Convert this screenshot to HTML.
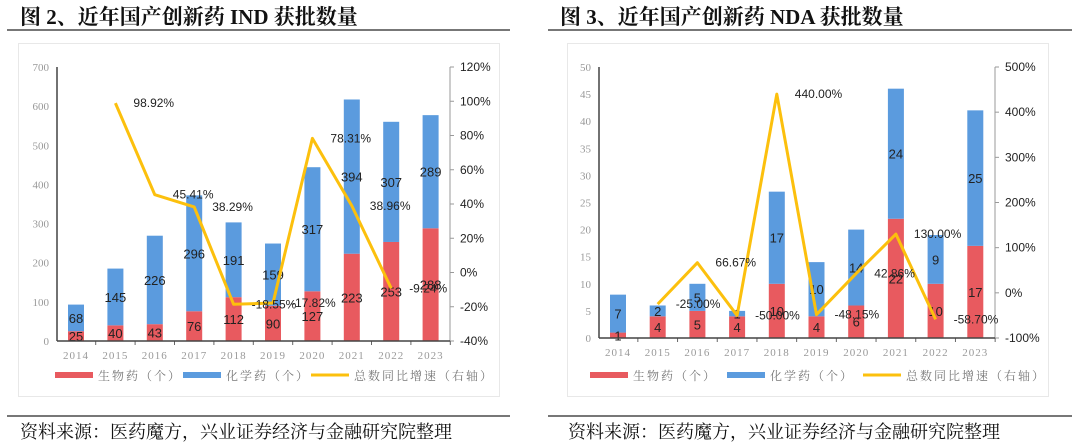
<!DOCTYPE html>
<html><head><meta charset="utf-8">
<style>
body{margin:0;width:1080px;height:445px;background:#fff;overflow:hidden;font-family:"Liberation Serif","Noto Serif CJK SC",serif;}
.t{position:absolute;font-weight:bold;font-size:21px;color:#111;top:1px;white-space:nowrap;font-family:"Liberation Serif","Noto Serif CJK SC",serif;}
.hl{position:absolute;height:2px;background:#777;}
.src{position:absolute;top:418px;font-size:18px;color:#111;white-space:nowrap;font-family:"Liberation Serif","Noto Serif CJK SC",serif;}
.box{position:absolute;border:1px solid #e8e8e8;}
svg{position:absolute;left:0;top:0;}
</style></head><body>
<div class="t" style="left:20px">图 2、近年国产创新药 IND 获批数量</div>
<div class="t" style="left:560px">图 3、近年国产创新药 NDA 获批数量</div>
<div class="hl" style="left:7px;top:29px;width:503px"></div>
<div class="hl" style="left:548px;top:29px;width:524px"></div>
<div class="box" style="left:18px;top:43px;width:480px;height:352px"></div>
<div class="box" style="left:567px;top:43px;width:480px;height:352px"></div>
<div class="hl" style="left:7px;top:415px;width:503px"></div>
<div class="hl" style="left:548px;top:415px;width:524px"></div>
<div class="src" style="left:20px">资料来源：医药魔方，兴业证券经济与金融研究院整理</div>
<div class="src" style="left:568px">资料来源：医药魔方，兴业证券经济与金融研究院整理</div>
<svg id="svg" width="1080" height="445"></svg>
<script>
const years = ["2014","2015","2016","2017","2018","2019","2020","2021","2022","2023"];
const indBio = [25,40,43,76,112,90,127,223,253,288];
const indChem = [68,145,226,296,191,159,317,394,307,289];
const indGrowth = [98.92,45.41,38.29,-18.55,-17.82,78.31,38.96,-9.24];
const indLeftTicks = [0,100,200,300,400,500,600,700];
const indRightTicks = [-40,-20,0,20,40,60,80,100,120];
const ndaBio = [1,4,5,4,10,4,6,22,10,17];
const ndaChem = [7,2,5,1,17,10,14,24,9,25];
const ndaGrowth = [-25.00,66.67,-50.00,440.00,-48.15,42.86,130.00,-58.70];
const ndaLeftTicks = [0,5,10,15,20,25,30,35,40,45,50];
const ndaRightTicks = [-100,0,100,200,300,400,500];

const NS="http://www.w3.org/2000/svg";
const svg=document.getElementById('svg');
function mk(tag,attrs,name,text){const e=document.createElementNS(NS,tag);for(const k in attrs)e.setAttribute(k,attrs[k]);


if(text!==undefined)e.textContent=text;svg.appendChild(e);return e;}

function chart(cfg){
  const {x0,x1,yTop,yBot,c0,step,bio,chem,growth,lt,rt,pre,leg}=cfg;
  const lmax=lt[lt.length-1], rmin=rt[0], rmax=rt[rt.length-1];
  const yL=v=>yBot-(v/lmax)*(yBot-yTop);
  const yR=v=>yBot-((v-rmin)/(rmax-rmin))*(yBot-yTop);
  const xC=i=>c0+i*step;
  const bw=16;
  lt.forEach(t=>{mk('text',{x:x0-8,y:yL(t)+4,'text-anchor':'end','font-size':11,fill:'#999','font-family':'Liberation Serif,serif'},pre+'left-tick-label',String(t));});
  rt.forEach(t=>{mk('line',{x1:x1,x2:x1+4,y1:yR(t),y2:yR(t),stroke:'#999'},pre+'right-tick');
    mk('text',{x:x1+10,y:yR(t)+4,'font-size':12,fill:'#222','font-family':'Liberation Sans,sans-serif'},pre+'right-tick-label',t+'%');});
  mk('line',{x1:x1,x2:x1,y1:yTop,y2:yBot,stroke:'#999'},pre+'right-axis');
  years.forEach((y,i)=>{
    const x=xC(i);
    mk('rect',{x:x-bw/2,y:yL(bio[i]),width:bw,height:yBot-yL(bio[i]),fill:'#e85a5f'},pre+'bio-bar-'+y);
    mk('rect',{x:x-bw/2,y:yL(bio[i]+chem[i]),width:bw,height:yL(bio[i])-yL(bio[i]+chem[i]),fill:'#5b9bde'},pre+'chem-bar-'+y);
    mk('text',{x:x,y:(yBot+yL(bio[i]))/2+5,'text-anchor':'middle','font-size':13,fill:'#222','font-family':'Liberation Sans,sans-serif'},pre+'bio-value-'+y,String(bio[i]));
    mk('text',{x:x,y:(yL(bio[i])+yL(bio[i]+chem[i]))/2+5,'text-anchor':'middle','font-size':13,fill:'#222','font-family':'Liberation Sans,sans-serif'},pre+'chem-value-'+y,String(chem[i]));
    mk('text',{x:x,y:yBot+18,'text-anchor':'middle','font-size':11,fill:'#999','font-family':'Liberation Serif,serif','letter-spacing':'1'},pre+'x-tick-label',y);
    mk('line',{x1:x+step/2,x2:x+step/2,y1:yBot,y2:yBot+4,stroke:'#666'},pre+'x-tick');
  });
  mk('line',{x1:x0,x2:x0,y1:yTop,y2:yBot,stroke:'#444','stroke-width':1.5},pre+'left-axis');
  mk('line',{x1:x0,x2:x1,y1:yBot,y2:yBot,stroke:'#444','stroke-width':1.5},pre+'x-axis');
  const pts=growth.map((g,i)=>xC(i+1)+','+yR(g)).join(' ');
  mk('polyline',{points:pts,fill:'none',stroke:'#fcc00d','stroke-width':3,'stroke-linejoin':'round'},pre+'growth-line');
  growth.forEach((g,i)=>{mk('text',{x:xC(i+1)+18,y:yR(g)+4,'font-size':12,fill:'#222','font-family':'Liberation Sans,sans-serif'},pre+'growth-label',g.toFixed(2)+'%');});
  const ly=375, cols=[['#e85a5f','生物药（个）','bio'],['#5b9bde','化学药（个）','chem'],['#fcc00d','总数同比增速（右轴）','growth']];
  cols.forEach((c,k)=>{const lx=leg[k];
    mk('rect',{x:lx,y:ly-(k==2?1.5:3),width:38,height:k==2?3:6,fill:c[0]},pre+'legend-swatch-'+c[2]);
    mk('text',{x:lx+43,y:ly+5,'font-size':12,fill:'#777','font-family':'Liberation Serif,Noto Serif CJK SC,serif','letter-spacing':'2'},pre+'legend-label-'+c[2],c[1]);});
}
chart({x0:57,x1:450,yTop:67,yBot:341,c0:76,step:39.4,bio:indBio,chem:indChem,growth:indGrowth,lt:indLeftTicks,rt:indRightTicks,pre:'ind-',leg:[55,183,311]});
chart({x0:599,x1:995,yTop:67,yBot:338,c0:618,step:39.7,bio:ndaBio,chem:ndaChem,growth:ndaGrowth,lt:ndaLeftTicks,rt:ndaRightTicks,pre:'nda-',leg:[590,727,863]});
</script>
</body></html>
